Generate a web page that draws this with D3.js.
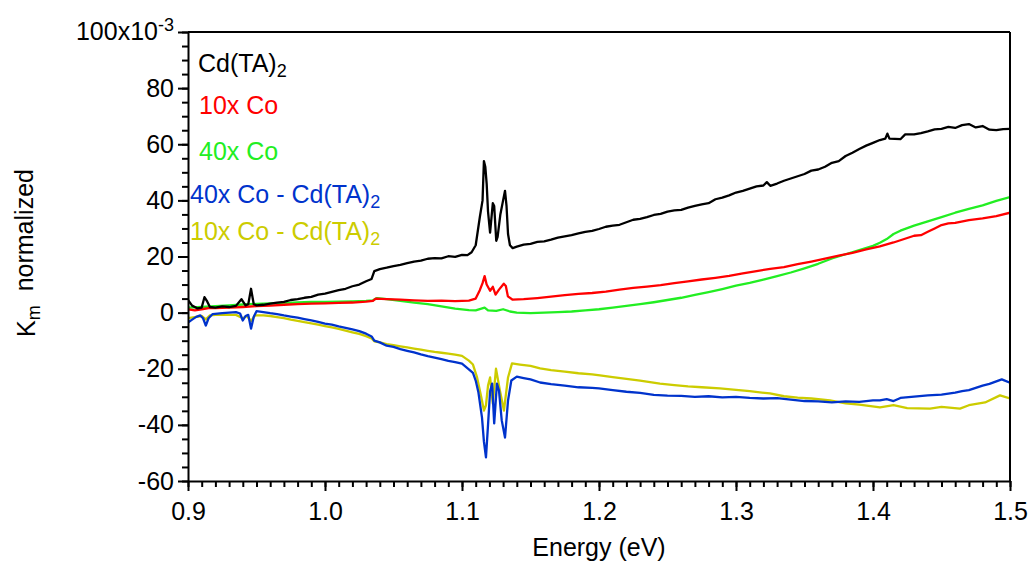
<!DOCTYPE html>
<html>
<head>
<meta charset="utf-8">
<script src="https://cdn.jsdelivr.net/npm/d3@7"></script>
<style>
  body { margin: 0; background: #fff; }
  svg text { font-family: "Liberation Sans", Arial, sans-serif; }
</style>
</head>
<body>
<div id="chart"></div>
<script>
// energy (eV) / Km values (x10^-3)
const cdEnergy = [0.900,0.903,0.907,0.910,0.912,0.914,0.916,0.920,0.925,0.930,0.935,0.939,0.942,0.944,0.946,0.948,0.950,0.955,0.960,0.965,0.970,0.975,0.980,0.985,0.990,0.995,1.000,1.005,1.010,1.015,1.020,1.025,1.030,1.034,1.036,1.040,1.045,1.050,1.055,1.060,1.065,1.070,1.075,1.080,1.085,1.090,1.095,1.100,1.104,1.107,1.110,1.113,1.115,1.116,1.117,1.118,1.119,1.1205,1.1225,1.1235,1.125,1.126,1.128,1.130,1.1314,1.1325,1.1336,1.135,1.137,1.140,1.145,1.150,1.155,1.160,1.165,1.170,1.175,1.180,1.185,1.190,1.195,1.200,1.205,1.210,1.215,1.220,1.225,1.230,1.235,1.240,1.245,1.250,1.255,1.260,1.265,1.270,1.275,1.280,1.285,1.290,1.295,1.300,1.305,1.310,1.315,1.320,1.3225,1.325,1.330,1.335,1.340,1.345,1.350,1.355,1.360,1.365,1.370,1.375,1.380,1.385,1.390,1.395,1.400,1.405,1.409,1.4105,1.412,1.420,1.4235,1.430,1.435,1.440,1.445,1.450,1.455,1.460,1.465,1.470,1.475,1.480,1.485,1.490,1.495,1.500];
const cdValues = [4.5,2.5,1.5,1.8,5.5,4.0,2.0,1.8,2.2,2.0,2.4,4.8,2.6,3.0,8.5,3.0,2.6,2.8,3.2,3.6,3.8,4.5,4.8,5.3,5.6,6.4,6.8,7.4,8.0,8.5,9.4,10.0,11.2,12.0,14.8,15.5,16.0,16.6,17.0,17.6,18.2,18.5,19.2,19.4,19.3,20.1,19.9,20.6,20.5,21.5,24.0,34.0,40,54,52,46,36,28.5,39,38,25.6,27,35,40,43.4,38,28,24,23,23.5,24.2,24.5,25.2,25.4,26,26.7,27.2,27.6,28.2,28.8,29.1,29.8,30.6,31.0,31.3,32.2,33.1,33.4,34.0,34.8,35.2,36.0,36.4,36.6,37.4,38.0,38.6,39.0,40.4,41.0,41.8,42.8,43.4,44.2,45.0,45.3,46.5,45.2,46.0,47.0,47.8,48.6,49.4,50.6,51.0,52.0,53.4,54.0,55.8,57.0,58.3,59.5,60.5,61.5,62.0,63.8,62.0,61.8,63.5,63.5,64.0,64.6,65.3,65.5,66.2,65.8,66.8,67.2,66.0,66.5,65.2,65.0,65.4,65.5];

const co10Energy = [0.900,0.905,0.910,0.915,0.920,0.930,0.940,0.950,0.960,0.970,0.980,0.990,1.000,1.010,1.020,1.030,1.035,1.037,1.045,1.055,1.065,1.075,1.085,1.095,1.105,1.110,1.113,1.115,1.1165,1.118,1.1205,1.1225,1.1245,1.127,1.1305,1.132,1.1335,1.137,1.145,1.155,1.165,1.175,1.185,1.195,1.205,1.215,1.225,1.235,1.245,1.255,1.265,1.275,1.285,1.295,1.305,1.315,1.325,1.335,1.345,1.355,1.365,1.375,1.385,1.395,1.405,1.415,1.425,1.430,1.435,1.440,1.445,1.450,1.455,1.460,1.470,1.480,1.490,1.500];
const co10Values = [1.2,0.8,1.2,1.6,1.6,1.8,2.0,2.3,2.5,2.8,3.0,3.2,3.3,3.5,3.6,3.9,4.2,5.0,4.8,4.6,4.4,4.2,4.3,4.1,4.3,5.0,8.0,10.5,13.0,10.0,7.8,9.2,6.4,8.2,10.3,9.5,5.8,4.6,4.8,5.2,5.7,6.2,6.7,7.0,7.5,8.2,8.8,9.3,9.8,10.5,11.1,11.8,12.4,13.1,14.0,14.8,15.6,16.2,17.3,18.2,19.2,20.3,21.3,22.5,23.6,25.0,26.6,27.4,27.6,28.8,30.0,31.2,31.8,32.0,33.0,33.6,34.4,35.6];

const co40Energy = [0.900,0.910,0.920,0.930,0.940,0.950,0.960,0.970,0.980,0.990,1.000,1.010,1.020,1.030,1.035,1.038,1.045,1.055,1.065,1.075,1.085,1.095,1.105,1.110,1.1165,1.119,1.125,1.130,1.135,1.140,1.150,1.160,1.170,1.180,1.190,1.200,1.210,1.220,1.230,1.240,1.250,1.260,1.270,1.280,1.290,1.300,1.310,1.320,1.330,1.340,1.350,1.360,1.370,1.380,1.390,1.400,1.405,1.410,1.415,1.420,1.430,1.440,1.450,1.460,1.470,1.480,1.490,1.500];
const co40Values = [1.8,2.0,2.3,2.6,2.9,3.1,3.3,3.4,3.6,3.8,3.8,3.9,4.0,4.2,4.4,5.2,4.8,4.2,3.6,3.0,2.2,1.4,0.9,0.8,1.8,0.8,0.6,1.2,0.4,0.0,-0.2,0.0,0.2,0.4,0.8,1.2,1.8,2.4,3.0,3.7,4.5,5.3,6.3,7.3,8.4,9.6,10.6,11.8,13.0,14.3,15.8,17.4,19.3,20.8,22.3,23.8,24.9,26.2,28.0,29.2,31.0,32.5,34.0,35.6,37.0,38.2,39.8,41.2];

const diff40Energy = [0.900,0.903,0.906,0.909,0.911,0.913,0.915,0.918,0.925,0.930,0.935,0.938,0.940,0.942,0.944,0.946,0.948,0.950,0.955,0.960,0.965,0.970,0.975,0.980,0.985,0.990,0.995,1.000,1.005,1.010,1.015,1.020,1.025,1.030,1.034,1.036,1.040,1.045,1.050,1.055,1.060,1.065,1.070,1.075,1.080,1.085,1.090,1.095,1.100,1.105,1.108,1.110,1.112,1.1146,1.116,1.1175,1.119,1.1205,1.122,1.1235,1.1255,1.127,1.129,1.1314,1.1336,1.136,1.140,1.145,1.150,1.157,1.165,1.175,1.185,1.195,1.200,1.210,1.220,1.230,1.240,1.250,1.260,1.270,1.280,1.290,1.300,1.310,1.320,1.330,1.340,1.350,1.360,1.370,1.380,1.390,1.400,1.405,1.410,1.415,1.420,1.430,1.440,1.450,1.460,1.465,1.470,1.475,1.480,1.485,1.490,1.494,1.500];
const diff40Values = [-3.5,-2.5,-1.5,-1.0,-2.0,-4.6,-2.0,-0.5,-0.2,0.0,0.2,-0.3,-2.8,-1.2,-0.8,-5.7,-1.5,0.5,0.2,-0.2,-0.5,-1.0,-1.4,-1.8,-2.3,-2.8,-3.3,-3.9,-4.3,-4.9,-5.4,-6.0,-6.6,-7.5,-8.5,-10.0,-10.6,-11.8,-12.2,-13.0,-13.6,-14.2,-14.9,-15.5,-16.0,-16.6,-17.2,-17.6,-18.2,-20.2,-21.5,-24.2,-28.5,-37.4,-46,-51.6,-40,-28,-25.3,-39.5,-25.3,-27.8,-38.4,-44.5,-31.3,-24.2,-22.8,-23.3,-23.8,-24.9,-25.5,-26.0,-26.6,-26.8,-27.0,-27.6,-28.2,-28.6,-29.3,-29.6,-29.7,-30.0,-29.8,-30.2,-30.0,-30.4,-30.6,-30.5,-31.0,-31.5,-31.6,-32.0,-31.6,-31.8,-31.3,-31.3,-30.8,-31.5,-30.4,-29.9,-29.5,-29.2,-28.5,-28.0,-27.6,-26.8,-26.0,-25.4,-24.5,-23.8,-25.0];

const diff10Energy = [0.900,0.905,0.910,0.913,0.916,0.920,0.925,0.930,0.935,0.940,0.943,0.946,0.949,0.955,0.960,0.965,0.970,0.975,0.980,0.985,0.990,0.995,1.000,1.005,1.010,1.015,1.020,1.025,1.030,1.034,1.036,1.040,1.045,1.050,1.055,1.060,1.065,1.070,1.075,1.080,1.085,1.090,1.095,1.100,1.105,1.108,1.111,1.114,1.116,1.1175,1.119,1.1205,1.1225,1.1248,1.1277,1.1306,1.1336,1.1365,1.1423,1.150,1.157,1.165,1.175,1.185,1.195,1.2007,1.210,1.220,1.230,1.2445,1.255,1.265,1.275,1.2883,1.300,1.310,1.3248,1.335,1.345,1.355,1.3686,1.380,1.390,1.4051,1.415,1.425,1.4416,1.450,1.4635,1.470,1.4818,1.4927,1.500];
const diff10Values = [-2.0,-1.6,-1.2,-2.4,-1.0,-0.8,-0.8,-0.8,-0.8,-2.0,-1.2,-3.0,-1.0,-1.0,-1.2,-1.6,-2.0,-2.5,-2.9,-3.4,-3.8,-4.3,-4.8,-5.3,-5.8,-6.4,-7.0,-7.6,-8.4,-9.2,-10.2,-10.6,-11.2,-11.6,-12.0,-12.4,-12.8,-13.2,-13.6,-14.0,-14.3,-14.6,-15.0,-15.4,-17.1,-18.5,-23.1,-30,-34.9,-33,-26,-23.1,-32.4,-20,-27.8,-34.9,-23.1,-18.1,-18.5,-19.0,-19.9,-20.5,-21.0,-21.6,-22.0,-22.4,-23.0,-23.6,-24.2,-25.3,-25.8,-26.3,-26.6,-27.0,-27.5,-28.0,-28.8,-29.8,-30.3,-30.6,-31.3,-32.3,-32.8,-33.8,-33.0,-34.0,-34.2,-33.6,-34.2,-33.0,-32.0,-29.5,-30.6];

const xTicks = [0.9, 1.0, 1.1, 1.2, 1.3, 1.4, 1.5];
const yTicks = [-60, -40, -20, 0, 20, 40, 60, 80];

const series = [
  { name: "Cd(TA)", sub: "2", color: "#000000", x: cdEnergy, y: cdValues },
  { name: "10x Co", sub: "", color: "#ff0000", x: co10Energy, y: co10Values },
  { name: "40x Co", sub: "", color: "#22ee22", x: co40Energy, y: co40Values },
  { name: "40x Co - Cd(TA)", sub: "2", color: "#0033cc", x: diff40Energy, y: diff40Values },
  { name: "10x Co - Cd(TA)", sub: "2", color: "#cccc00", x: diff10Energy, y: diff10Values }
];
// draw order: the yellow under the blue, black on top
const drawOrder = [4, 3, 2, 1, 0];

const W = 1032, H = 564;
const margin = { top: 32, right: 22, bottom: 83, left: 188 };
const width = W - margin.left - margin.right;
const height = H - margin.top - margin.bottom;
const fs = 25;

const svg = d3.select("#chart").append("svg")
  .attr("width", W)
  .attr("height", H);

const g = svg.append("g")
  .attr("transform", "translate(" + margin.left + "," + margin.top + ")");

const x = d3.scaleLinear().domain([0.9, 1.5]).range([0, width]);
const y = d3.scaleLinear().domain([-60, 100]).range([height, 0]);

g.append("clipPath").attr("id", "clip")
  .append("rect").attr("width", width).attr("height", height);

const line = d3.line()
  .x(function(d) { return x(d[0]); })
  .y(function(d) { return y(d[1]); });

const curves = g.append("g").attr("clip-path", "url(#clip)");
drawOrder.forEach(function(i) {
  const s = series[i];
  curves.append("path")
    .datum(s.x.map(function(v, k) { return [v, s.y[k]]; }))
    .attr("fill", "none")
    .attr("stroke", s.color)
    .attr("stroke-width", 2.3)
    .attr("stroke-linejoin", "round")
    .attr("d", line);
});

// frame: top and right
g.append("line").attr("x1", 0).attr("x2", width).attr("y1", 0).attr("y2", 0)
  .attr("stroke", "#000").attr("stroke-width", 2);
g.append("line").attr("x1", width).attr("x2", width).attr("y1", 0).attr("y2", height)
  .attr("stroke", "#000").attr("stroke-width", 2);

// minor ticks
const xMinor = g.append("g")
  .attr("transform", "translate(0," + height + ")")
  .call(d3.axisBottom(x).tickValues(d3.range(0, 61).map(function(i) { return 0.9 + i * 0.01; }))
    .tickSize(6).tickFormat(""));
const yMinor = g.append("g")
  .call(d3.axisLeft(y).tickValues(d3.range(-60, 101, 5)).tickSize(6).tickFormat(""));

const xAxis = g.append("g")
  .attr("transform", "translate(0," + height + ")")
  .call(d3.axisBottom(x).tickValues(xTicks).tickSize(10).tickSizeOuter(0).tickPadding(11)
    .tickFormat(d3.format(".1f")));
const yAxis = g.append("g")
  .call(d3.axisLeft(y).tickValues(yTicks.concat([100])).tickSize(10).tickSizeOuter(0).tickPadding(4)
    .tickFormat(function(d) { return d === 100 ? "" : d; }));

[xMinor, yMinor, xAxis, yAxis].forEach(function(a) {
  a.selectAll("path").attr("stroke", "#000").attr("stroke-width", 2);
  a.selectAll("line").attr("stroke", "#000").attr("stroke-width", 2);
  a.selectAll("text")
    .attr("fill", "#000")
    .style("font-size", fs + "px");
});
xMinor.select("path").remove();
yMinor.select("path").remove();

// top tick label with exponent
const topLabel = g.append("text")
  .attr("x", -14)
  .attr("y", y(100))
  .attr("dy", "0.32em")
  .attr("text-anchor", "end")
  .style("font-size", fs + "px");
topLabel.append("tspan").text("100x10");
topLabel.append("tspan")
  .attr("dy", "-0.5em")
  .style("font-size", "18px")
  .text("-3");

// axis titles
svg.append("text")
  .attr("x", margin.left + width / 2)
  .attr("y", 556)
  .attr("text-anchor", "middle")
  .style("font-size", fs + "px")
  .text("Energy (eV)");

const yTitle = svg.append("text")
  .attr("transform", "translate(35,253) rotate(-90)")
  .attr("text-anchor", "middle")
  .style("font-size", fs + "px");
yTitle.append("tspan").text("K");
yTitle.append("tspan").attr("dy", "0.3em").style("font-size", "18px").text("m");
yTitle.append("tspan").attr("dy", "-0.3em").text("\u00a0\u00a0normalized");

// legend
const legX = [198, 199, 199, 190, 190];
const legY = [72, 114, 160, 203, 240];
series.forEach(function(s, i) {
  const t = svg.append("text")
    .attr("x", legX[i])
    .attr("y", legY[i])
    .attr("fill", s.color)
    .style("font-size", fs + "px");
  t.append("tspan").text(s.name);
  if (s.sub) {
    t.append("tspan").attr("dy", "0.3em").style("font-size", "18px").text(s.sub);
  }
});
</script>
</body>
</html>
